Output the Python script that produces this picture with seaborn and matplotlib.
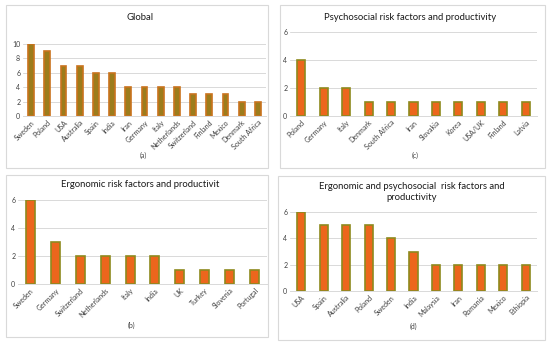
import seaborn as sns
import pandas as pd
import matplotlib.pyplot as plt
from matplotlib.patches import Rectangle

sns.set_theme(style="white")
plt.rcParams['font.family'] = ['Lato', 'DejaVu Sans']

# data
global_countries = ['Sweden', 'Poland', 'USA', 'Australia', 'Spain', 'India', 'Iran', 'Germany',
                    'Italy', 'Netherlands', 'Switzerland', 'Finland', 'Mexico', 'Denmark', 'South Africa']
global_counts = [10, 9, 7, 7, 6, 6, 4, 4, 4, 4, 3, 3, 3, 2, 2]

psy_countries = ['Poland', 'Germany', 'Italy', 'Denmark', 'South Africa', 'Iran', 'Slovakia',
                 'Korea', 'USA/UK', 'Finland', 'Latvia']
psy_counts = [4, 2, 2, 1, 1, 1, 1, 1, 1, 1, 1]

ergo_countries = ['Sweden', 'Germany', 'Switzerland', 'Netherlands', 'Italy', 'India', 'UK',
                  'Turkey', 'Slovenia', 'Portugal']
ergo_counts = [6, 3, 2, 2, 2, 2, 1, 1, 1, 1]

both_countries = ['USA', 'Spain', 'Australia', 'Poland', 'Sweden', 'India', 'Malaysia', 'Iran',
                  'Romania', 'Mexico', 'Ethiopia']
both_counts = [6, 5, 5, 5, 4, 3, 2, 2, 2, 2, 2]

W, H = 550, 344
fig = plt.figure(figsize=(W / 100, H / 100), dpi=100)
fig.patch.set_facecolor('white')


def px_axes(left, right, top, bottom):
    return fig.add_axes([left / W, 1 - bottom / H, (right - left) / W, (bottom - top) / H])


def box(left, right, top, bottom):
    fig.patches.append(Rectangle((left / W, 1 - bottom / H), (right - left) / W, (bottom - top) / H,
                                 transform=fig.transFigure, fill=False, edgecolor='#d9d9d9', lw=0.8))


def panel(ax, names, vals, ymax, title, caption, ty, cy, tx, cx,
          face='#ec661c', edge='#8e8a1e'):
    df = pd.DataFrame({'country': names, 'n': vals})
    sns.barplot(data=df, x='country', y='n', ax=ax, width=0.36, color=face,
                edgecolor=edge, linewidth=1.2, saturation=1)
    ax.set_ylim(0, ymax)
    ax.set_yticks(range(0, ymax + 1, 2))
    ax.set_xlim(-0.5, len(names) - 0.5)
    ax.grid(axis='y', color='#d9d9d9', lw=0.7)
    ax.set_axisbelow(True)
    for s in ['top', 'right', 'left']:
        ax.spines[s].set_visible(False)
    ax.spines['bottom'].set_color('#d9d9d9')
    ax.spines['bottom'].set_linewidth(0.7)
    ax.tick_params(axis='both', length=0, pad=2, labelsize=5, colors='#404040')
    plt.setp(ax.get_xticklabels(), rotation=45, ha='right', rotation_mode='anchor')
    ax.set_xlabel('')
    ax.set_ylabel('')
    fig.text(tx / W, 1 - ty / H, title, ha='center', va='center', fontsize=6.8, color='#1a1a1a',
             linespacing=1.2)
    fig.text(cx / W, 1 - cy / H, caption, ha='center', va='center', fontsize=5, color='#404040')


box(6, 268, 5, 168)
box(280, 545, 5, 168)
box(6, 268, 175, 337)
box(278, 545, 176, 340)

ax_a = px_axes(23, 266, 44, 116)
panel(ax_a, global_countries, global_counts, 10, 'Global', '(a)', 17, 155, 140, 143,
      face='#9c7c1c', edge='#c9731e')

ax_c = px_axes(290, 537, 32, 116)
panel(ax_c, psy_countries, psy_counts, 6, 'Psychosocial risk factors and productivity', '(c)',
      17, 155, 410, 415)

ax_b = px_axes(18, 267, 200, 284)
panel(ax_b, ergo_countries, ergo_counts, 6, 'Ergonomic risk factors and productivit', '(b)',
      185, 325, 140, 131)

ax_d = px_axes(290, 537, 212, 291)
panel(ax_d, both_countries, both_counts, 6,
      'Ergonomic and psychosocial  risk factors and\nproductivity', '(d)', 192, 326, 412, 413)

fig.savefig('out.png', dpi=100)
